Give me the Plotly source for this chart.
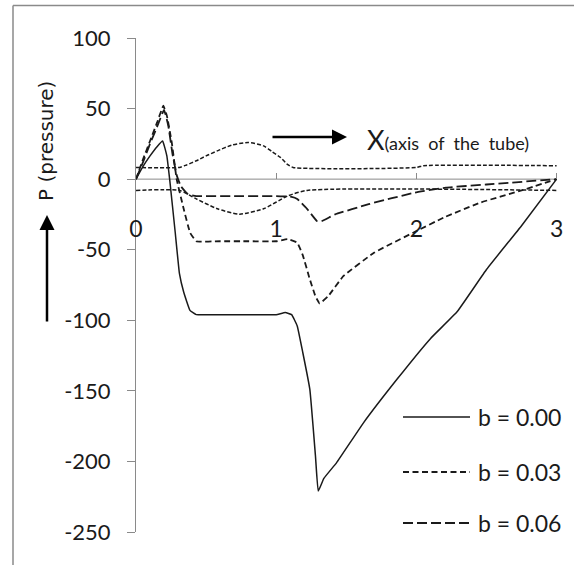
import plotly.graph_objects as go

# ---------------- data ----------------
x_b000 = [0, 0.05, 0.1, 0.15, 0.19, 0.22, 0.24, 0.28, 0.31, 0.34, 0.385, 0.43, 0.6, 0.8, 1.0, 1.065,
          1.11, 1.15, 1.19, 1.24, 1.28, 1.30, 1.34, 1.43, 1.62, 1.86, 2.1, 2.29, 2.5, 2.75, 3.0]
p_b000 = [0, 9, 16.5, 23, 27, 16.5, 0, -38, -67, -80, -93, -96, -96, -96, -96, -94.5,
          -96, -104, -123, -149, -196, -221, -212, -201, -173, -142, -113, -94, -64, -33, 0]

x_b003 = [0, 0.05, 0.1, 0.15, 0.195, 0.22, 0.255, 0.29, 0.34, 0.386, 0.43, 0.6, 0.8, 1.0, 1.08,
          1.15, 1.19, 1.24, 1.28, 1.31, 1.37, 1.48, 1.7, 1.98, 2.2, 2.46, 2.75, 3.0]
p_b003 = [0, 14, 27, 40, 52, 45, 26, 0, -21, -38, -44, -44, -44, -44, -42.5,
          -45, -54, -71, -83, -88, -83, -68.6, -52, -37.8, -27, -16.5, -8, 0]

x_b006 = [0, 0.05, 0.1, 0.15, 0.2, 0.23, 0.26, 0.29, 0.32, 0.37, 0.43, 0.7, 1.0, 1.11,
          1.15, 1.22, 1.29, 1.32, 1.42, 1.66, 1.99, 2.21, 2.5, 3.0]
p_b006 = [0, 12, 25, 37, 49, 38, 18, 3, -5, -10.6, -12, -12, -12, -12.5,
          -14, -21, -29.6, -30, -25, -17.7, -9.5, -6, -3.8, 0]

# tube wall (upper and lower outline)
x_wall_up = [0, 0.31, 0.36, 0.43, 0.5, 0.58, 0.68, 0.8, 0.91, 0.97, 1.03, 1.08, 1.12, 2.0, 2.05, 3.0]
y_wall_up = [8.3, 8.3, 10, 13, 16.5, 20, 24, 26, 23.6, 19.5, 15.4, 10.5, 8.3, 8.3, 9.5, 9.5]
x_wall_lo = [0, 0.31, 0.43, 0.58, 0.74, 0.91, 1.08, 1.22, 3.0]
y_wall_lo = [-8, -8, -14, -21, -24.8, -21, -12, -8, -8]

series_names = ["b = 0.00", "b = 0.03", "b = 0.06"]
x_ticks = [0, 1, 2, 3]
x_tick_text = ["0", "1", "2", "3"]
y_ticks = [-250, -200, -150, -100, -50, 0, 50, 100]
y_tick_text = ["-250", "-200", "-150", "-100", "-50", "0", "50", "100"]

# ---------------- styling ----------------
W, H = 574, 565
ML, MR, MT, MB = 136, 9, 38, 33
PW, PH = W - ML - MR, H - MT - MB


def pxx(px):
    return (px - ML) / PW


def pxy(py):
    return (H - MB - py) / PH


INK = "#1a1a1a"
AXC = "#8a8a8a"
FONT = "Lato, 'Open Sans', sans-serif"

styles = [
    dict(color=INK, width=1.5, dash="solid"),
    dict(color=INK, width=1.8, dash="6px,3.5px"),
    dict(color=INK, width=1.8, dash="10px,4px"),
]

fig = go.Figure()

fig.add_trace(go.Scatter(x=x_wall_up, y=y_wall_up, mode="lines", showlegend=False,
                         line=dict(color=INK, width=1.5, dash="4px,2px", shape="spline", smoothing=0.6)))
fig.add_trace(go.Scatter(x=x_wall_lo, y=y_wall_lo, mode="lines", showlegend=False,
                         line=dict(color=INK, width=1.5, dash="4px,2px", shape="spline", smoothing=0.6)))

for xs, ys, name, st in zip([x_b000, x_b003, x_b006], [p_b000, p_b003, p_b006], series_names, styles):
    fig.add_trace(go.Scatter(x=xs, y=ys, mode="lines", name=name, showlegend=False,
                             line=dict(color=st["color"], width=st["width"], dash=st["dash"],
                                       shape="spline", smoothing=0.3)))

shapes = []
# zero line (x axis)
shapes.append(dict(type="line", xref="x", yref="y", x0=0, x1=3, y0=0, y1=0,
                   line=dict(color=AXC, width=1), layer="below"))
# outer frame (left and top edges visible)
FRAME = "#8a8a8a"
shapes.append(dict(type="line", xref="paper", yref="paper", x0=pxx(13), x1=pxx(13),
                   y0=pxy(5.5), y1=pxy(575), line=dict(color=FRAME, width=1.5)))
shapes.append(dict(type="line", xref="paper", yref="paper", x0=pxx(13), x1=pxx(585),
                   y0=pxy(5.5), y1=pxy(5.5), line=dict(color=FRAME, width=1.5)))

annotations = []
# manual legend
leg_y = [417, 472, 523]
for name, st, ly in zip(series_names, styles, leg_y):
    shapes.append(dict(type="line", xref="paper", yref="paper", x0=pxx(403), x1=pxx(470),
                       y0=pxy(ly), y1=pxy(ly),
                       line=dict(color=st["color"], width=st["width"], dash=st["dash"])))
    annotations.append(dict(xref="paper", yref="paper", x=pxx(476), y=pxy(ly), text=name,
                            showarrow=False, xanchor="left", yanchor="middle",
                            font=dict(family=FONT, size=23, color=INK)))

# x-direction arrow and label
annotations.append(dict(xref="paper", yref="paper", x=pxx(347), y=pxy(137), ax=-76, ay=0,
                        text="", showarrow=True, arrowhead=2, arrowsize=1.2, arrowwidth=2.5,
                        arrowcolor="#000"))
annotations.append(dict(xref="paper", yref="paper", x=pxx(365), y=pxy(139),
                        text="<span style='font-size:27px'>X</span>(axis&nbsp; of&nbsp; the&nbsp; tube)",
                        showarrow=False, xanchor="left", yanchor="middle",
                        font=dict(family=FONT, size=18, color=INK)))
# pressure arrow and label
annotations.append(dict(xref="paper", yref="paper", x=pxx(47), y=pxy(215), ax=0, ay=108,
                        text="", showarrow=True, arrowhead=2, arrowsize=1.2, arrowwidth=2.5,
                        arrowcolor="#000"))
annotations.append(dict(xref="paper", yref="paper", x=pxx(46), y=pxy(141), text="P (pressure)",
                        textangle=-90, showarrow=False, xanchor="center", yanchor="middle",
                        font=dict(family="'DejaVu Sans', Verdana, sans-serif", size=20, color=INK)))

fig.update_layout(
    width=W, height=H, autosize=False,
    margin=dict(l=ML, r=MR, t=MT, b=MB, pad=0),
    paper_bgcolor="white", plot_bgcolor="white",
    showlegend=False,
    shapes=shapes, annotations=annotations,
    xaxis=dict(range=[0, 3.06], tickvals=x_ticks, ticktext=x_tick_text,
               anchor="free", position=250 / 350, showline=False, showgrid=False, zeroline=False,
               ticks="inside", ticklen=6, tickcolor=AXC, tickwidth=1,
               ticklabelstandoff=34, automargin=False,
               tickfont=dict(family=FONT, size=23, color=INK)),
    yaxis=dict(range=[-250, 100], tickvals=y_ticks, ticktext=y_tick_text,
               showline=True, linecolor=AXC, linewidth=1, showgrid=False, zeroline=False,
               ticks="outside", ticklen=8, tickcolor=AXC, tickwidth=1,
               ticklabelstandoff=12, automargin=False,
               tickfont=dict(family=FONT, size=22, color=INK)),
)

fig.write_html("out.html", config={"displayModeBar": False},
               post_script="document.body.style.margin='0';")
